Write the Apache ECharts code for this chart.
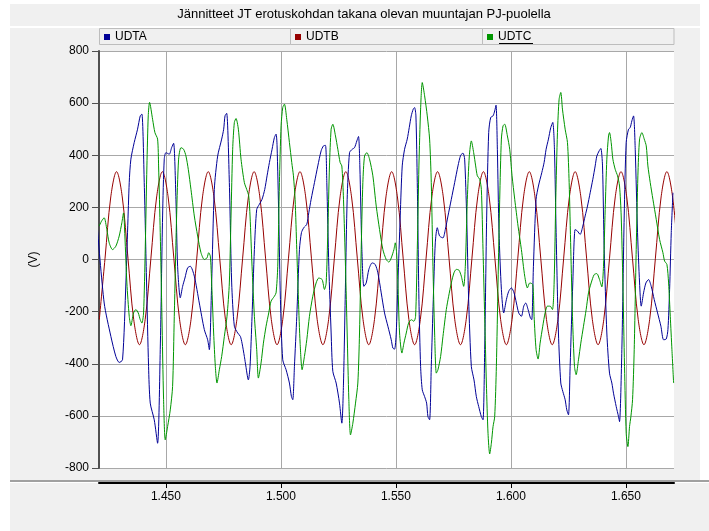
<!DOCTYPE html>
<html><head><meta charset="utf-8">
<script src="https://cdn.jsdelivr.net/npm/echarts@6/dist/echarts.min.js"></script>
<style>html,body{margin:0;padding:0;background:#fff}#c{width:709px;height:531px}</style>
</head><body><div id="c"></div>
<script>
const titleText = 'Jännitteet JT erotuskohdan takana olevan muuntajan PJ-puolella';
const seriesNames = ['UDTA', 'UDTB', 'UDTC'];
const yAxisName = '(V)';
const xTickValues = [1.45, 1.50, 1.55, 1.60, 1.65];

const udtaT = [1.42025,1.42315,1.42606,1.42823,1.42968,1.43113,1.43259,1.43404,1.43476,1.43621,1.43766,1.43883,1.43955,1.44057,1.44158,1.44245,1.44318,1.44492,1.44637,1.44753,1.44855,1.44927,1.45000,1.45145,1.45247,1.45334,1.45435,1.45508,1.45624,1.45726,1.45827,1.45943,1.46059,1.46234,1.46451,1.46669,1.46814,1.46887,1.46988,1.47104,1.47249,1.47424,1.47511,1.47569,1.47641,1.47757,1.47859,1.47975,1.48120,1.48236,1.48309,1.48410,1.48454,1.48584,1.48657,1.48744,1.48846,1.48947,1.49063,1.49179,1.49296,1.49397,1.49499,1.49615,1.49716,1.49789,1.49832,1.49905,1.49978,1.50079,1.50224,1.50369,1.50457,1.50515,1.50587,1.50689,1.50805,1.50892,1.50993,1.51124,1.51211,1.51313,1.51458,1.51603,1.51748,1.51850,1.51937,1.51995,1.52082,1.52183,1.52256,1.52401,1.52546,1.52648,1.52720,1.52807,1.52880,1.52982,1.53098,1.53199,1.53301,1.53373,1.53431,1.53519,1.53606,1.53707,1.53823,1.53968,1.54099,1.54215,1.54360,1.54505,1.54650,1.54796,1.54868,1.54941,1.55013,1.55086,1.55187,1.55274,1.55376,1.55492,1.55579,1.55666,1.55753,1.55811,1.55869,1.55928,1.56000,1.56073,1.56145,1.56247,1.56334,1.56392,1.56464,1.56537,1.56624,1.56711,1.56798,1.56900,1.57045,1.57147,1.57263,1.57408,1.57553,1.57698,1.57814,1.57916,1.57988,1.58075,1.58162,1.58278,1.58395,1.58496,1.58598,1.58714,1.58786,1.58859,1.58946,1.59033,1.59120,1.59222,1.59294,1.59352,1.59410,1.59483,1.59585,1.59686,1.59802,1.59904,1.60020,1.60136,1.60238,1.60339,1.60455,1.60557,1.60644,1.60746,1.60847,1.60905,1.60978,1.61094,1.61196,1.61341,1.61442,1.61529,1.61631,1.61732,1.61819,1.61892,1.61965,1.62066,1.62168,1.62255,1.62357,1.62429,1.62502,1.62574,1.62690,1.62792,1.62893,1.63009,1.63125,1.63227,1.63329,1.63445,1.63561,1.63663,1.63735,1.63837,1.63909,1.63982,1.64054,1.64170,1.64286,1.64388,1.64460,1.64577,1.64678,1.64722,1.64823,1.64925,1.65011,1.65113,1.65186,1.65258,1.65331,1.65404,1.65505,1.65593,1.65665,1.65767,1.65869,1.65984,1.66100,1.66231,1.66376,1.66521,1.66637,1.66753,1.66826,1.66899,1.66971,1.67044];
const udtaV = [115,-167,-295,-372,-395,-385,-90,295,385,449,500,551,558,295,-90,-410,-551,-615,-705,-346,167,385,410,404,429,446,231,-26,-147,-103,-71,-32,-26,-64,-167,-269,-308,-346,-90,269,397,462,500,551,561,295,-90,-256,-282,-295,-321,-372,-397,-462,-410,-218,38,192,212,231,269,321,372,423,468,481,436,167,-154,-385,-423,-474,-526,-538,-410,-218,38,103,122,135,179,231,295,359,417,436,438,295,-26,-282,-429,-474,-551,-628,-474,-90,231,410,423,429,455,472,359,38,-103,-90,-38,-13,-19,-51,-128,-205,-256,-308,-340,-344,-282,-90,167,359,423,462,506,551,577,583,551,295,-154,-410,-500,-526,-551,-603,-615,-410,-154,64,122,90,83,115,167,231,295,359,400,408,385,167,-154,-410,-462,-526,-564,-603,-615,-346,167,487,545,551,570,592,423,103,-115,-205,-154,-122,-109,-128,-167,-205,-218,-179,-167,-192,-224,-231,-26,231,282,333,372,423,462,506,526,423,103,-282,-474,-506,-538,-577,-596,-410,-90,115,109,96,128,167,205,256,308,359,397,417,426,359,38,-282,-436,-474,-513,-564,-603,-622,-346,167,449,500,506,532,551,423,103,-90,-179,-128,-90,-77,-103,-154,-205,-256,-308,-305,-269,-115,103,256];

const udtbT = [1.42104,1.42353,1.42602,1.42852,1.43101,1.43350,1.43599,1.43849,1.44098,1.44347,1.44596,1.44846,1.45095,1.45344,1.45593,1.45843,1.46092,1.46341,1.46590,1.46840,1.47089,1.47338,1.47587,1.47837,1.48086,1.48335,1.48584,1.48834,1.49083,1.49332,1.49581,1.49831,1.50080,1.50329,1.50578,1.50828,1.51077,1.51326,1.51575,1.51825,1.52074,1.52323,1.52572,1.52822,1.53071,1.53320,1.53569,1.53819,1.54068,1.54317,1.54566,1.54816,1.55065,1.55314,1.55563,1.55813,1.56062,1.56311,1.56560,1.56810,1.57059,1.57308,1.57557,1.57807,1.58056,1.58305,1.58554,1.58804,1.59053,1.59302,1.59551,1.59801,1.60050,1.60299,1.60548,1.60798,1.61047,1.61296,1.61545,1.61795,1.62044,1.62293,1.62542,1.62792,1.63041,1.63290,1.63539,1.63789,1.64038,1.64287,1.64536,1.64786,1.65035,1.65284,1.65533,1.65783,1.66032,1.66281,1.66530,1.66780,1.67029,1.67278];
const udtbV = [-230,5,240,337,240,5,-230,-327,-230,5,240,337,240,5,-230,-327,-230,5,240,337,240,5,-230,-327,-230,5,240,337,240,5,-230,-327,-230,5,240,337,240,5,-230,-327,-230,5,240,337,240,5,-230,-327,-230,5,240,337,240,5,-230,-327,-230,5,240,337,240,5,-230,-327,-230,5,240,337,240,5,-230,-327,-230,5,240,337,240,5,-230,-327,-230,5,240,337,240,5,-230,-327,-230,5,240,337,240,5,-230,-327,-230,5,240,337,240,5];

const udtcT = [1.42098,1.42199,1.42315,1.42431,1.42533,1.42678,1.42823,1.42968,1.43084,1.43157,1.43215,1.43302,1.43404,1.43476,1.43592,1.43694,1.43796,1.43883,1.43955,1.44028,1.44100,1.44173,1.44231,1.44289,1.44420,1.44521,1.44637,1.44681,1.44753,1.44826,1.44898,1.44971,1.45073,1.45189,1.45290,1.45363,1.45464,1.45551,1.45653,1.45769,1.45871,1.45972,1.46088,1.46234,1.46379,1.46524,1.46669,1.46785,1.46858,1.46930,1.46988,1.47075,1.47148,1.47220,1.47322,1.47424,1.47540,1.47656,1.47757,1.47830,1.47902,1.47975,1.48048,1.48149,1.48265,1.48410,1.48512,1.48599,1.48657,1.48744,1.48846,1.48947,1.49020,1.49136,1.49238,1.49354,1.49470,1.49571,1.49716,1.49789,1.49862,1.49934,1.50007,1.50079,1.50152,1.50253,1.50369,1.50471,1.50544,1.50616,1.50689,1.50761,1.50834,1.50921,1.51022,1.51124,1.51240,1.51385,1.51530,1.51646,1.51792,1.51893,1.51966,1.52038,1.52111,1.52183,1.52256,1.52372,1.52474,1.52575,1.52648,1.52720,1.52807,1.52880,1.52953,1.53025,1.53127,1.53243,1.53344,1.53417,1.53490,1.53562,1.53635,1.53736,1.53852,1.53997,1.54143,1.54288,1.54433,1.54578,1.54694,1.54796,1.54912,1.54970,1.55028,1.55086,1.55158,1.55260,1.55347,1.55449,1.55550,1.55666,1.55782,1.55855,1.55928,1.56000,1.56073,1.56145,1.56247,1.56363,1.56464,1.56537,1.56610,1.56682,1.56755,1.56827,1.56943,1.57045,1.57190,1.57292,1.57408,1.57524,1.57625,1.57741,1.57843,1.57945,1.58017,1.58104,1.58191,1.58278,1.58380,1.58467,1.58539,1.58641,1.58714,1.58786,1.58859,1.58932,1.59004,1.59077,1.59149,1.59222,1.59294,1.59367,1.59439,1.59512,1.59585,1.59657,1.59730,1.59846,1.59947,1.60049,1.60165,1.60310,1.60455,1.60600,1.60716,1.60818,1.60949,1.61007,1.61094,1.61181,1.61268,1.61384,1.61486,1.61587,1.61703,1.61805,1.61878,1.61950,1.62023,1.62095,1.62168,1.62240,1.62357,1.62458,1.62531,1.62603,1.62676,1.62763,1.62835,1.62937,1.63038,1.63155,1.63271,1.63372,1.63488,1.63619,1.63735,1.63851,1.63953,1.64025,1.64098,1.64170,1.64243,1.64286,1.64359,1.64432,1.64533,1.64635,1.64722,1.64794,1.64867,1.64939,1.65012,1.65085,1.65157,1.65215,1.65288,1.65360,1.65447,1.65520,1.65593,1.65694,1.65796,1.65883,1.65955,1.66057,1.66173,1.66318,1.66463,1.66608,1.66681,1.66782,1.66855,1.66928,1.67000,1.67073];
const udtcV = [128,147,160,115,64,38,51,90,141,179,90,-90,-218,-254,-205,-192,-205,-231,-244,-205,38,359,551,603,538,487,462,359,103,-218,-538,-692,-641,-577,-487,-218,167,385,429,423,397,346,269,167,90,26,0,6,26,13,-90,-282,-410,-474,-423,-372,-295,-218,-90,167,423,526,541,500,385,295,269,244,167,-26,-218,-346,-455,-397,-321,-256,-205,-160,-141,-128,-26,295,513,583,596,538,449,372,321,231,38,-154,-321,-423,-372,-308,-218,-141,-90,-71,-77,-115,-90,103,359,500,519,474,423,372,359,231,-26,-282,-538,-673,-628,-551,-474,-282,38,295,397,410,385,321,205,115,38,0,-10,6,38,64,26,-90,-282,-359,-321,-282,-244,-231,-237,-218,38,359,577,679,628,551,462,295,-26,-282,-436,-423,-372,-295,-192,-141,-90,-51,-38,-41,-64,-103,-26,231,397,455,410,359,321,308,269,38,-218,-474,-667,-746,-705,-641,-603,-410,-90,231,462,513,519,474,423,321,231,128,38,-64,-109,-90,-96,-218,-346,-382,-321,-256,-205,-179,-179,-192,-90,231,487,615,641,577,500,449,295,38,-218,-410,-442,-385,-321,-256,-192,-128,-90,-58,-54,-77,-105,-26,192,385,474,487,449,385,346,321,282,167,-90,-410,-667,-718,-641,-603,-538,-346,38,321,462,487,462,436,359,295,231,154,77,26,-6,-19,-90,-218,-346,-474];

function zip(t, v) { return t.map((x, i) => [x, v[i]]); }

const FONT = 'Liberation Sans, Arial, sans-serif';
const colors = ['#000096', '#960000', '#009600'];

const chart = echarts.init(document.getElementById('c'), null, {renderer: 'canvas'});
const legendLefts = [104, 295, 487];
chart.setOption({
  animation: false,
  backgroundColor: '#ffffff',
  color: colors,
  title: {
    text: titleText, left: 364, textAlign: 'center', top: 8, padding: 0,
    textStyle: {fontFamily: FONT, fontSize: 13, fontWeight: 'normal', color: '#000'}
  },
  legend: seriesNames.map((n, i) => ({
    data: [n], left: legendLefts[i], top: 31, padding: 0,
    icon: 'rect', itemWidth: 6, itemHeight: 6, selectedMode: false,
    textStyle: {fontFamily: FONT, fontSize: 12, color: '#000'}
  })),
  graphic: [
    {type: 'rect', z: -10, shape: {x: 10, y: 4, width: 690, height: 22}, style: {fill: '#f0f0f0'}},
    {type: 'rect', z: -10, shape: {x: 10, y: 28, width: 690, height: 452}, style: {fill: '#f0f0f0'}},
    {type: 'rect', z: -10, shape: {x: 10, y: 483, width: 699, height: 48}, style: {fill: '#f0f0f0'}},
    {type: 'rect', z: -9, shape: {x: 99.5, y: 28.5, width: 191, height: 16}, style: {fill: '#f0f0f0', stroke: '#bdbdbd', lineWidth: 1}},
    {type: 'rect', z: -9, shape: {x: 290.5, y: 28.5, width: 192, height: 16}, style: {fill: '#f0f0f0', stroke: '#bdbdbd', lineWidth: 1}},
    {type: 'rect', z: -9, shape: {x: 482.5, y: 28.5, width: 191.5, height: 16}, style: {fill: '#f0f0f0', stroke: '#bdbdbd', lineWidth: 1}},
    {type: 'line', z: -9, shape: {x1: 10, y1: 481, x2: 709, y2: 481}, style: {stroke: '#a0a0a0', lineWidth: 2}},
    {type: 'line', z: 10, shape: {x1: 499, y1: 43.5, x2: 533, y2: 43.5}, style: {stroke: '#000', lineWidth: 1}}
  ],
  grid: {left: 99, top: 51, width: 575, height: 417, show: true, backgroundColor: '#ffffff', borderWidth: 0, containLabel: false},
  xAxis: {
    type: 'value', min: 1.4209, max: 1.6709, splitNumber: 5, offset: 15,
    axisLine: {show: true, onZero: false, lineStyle: {color: '#000', width: 2}},
    axisTick: {show: true, length: 5, customValues: xTickValues, lineStyle: {color: '#000', width: 1}},
    axisLabel: {customValues: xTickValues, margin: 8, fontFamily: FONT, fontSize: 12, color: '#000', formatter: v => v.toFixed(3)},
    splitLine: {show: true, lineStyle: {color: '#a8a8a8', width: 1}}
  },
  yAxis: {
    type: 'value', min: -800, max: 800, interval: 200,
    name: yAxisName, nameLocation: 'middle', nameRotate: 90, nameGap: 59,
    nameTextStyle: {fontFamily: FONT, fontSize: 12, color: '#000'},
    axisLine: {show: true, onZero: false, lineStyle: {color: '#505050', width: 2}},
    axisTick: {show: true, length: 7, lineStyle: {color: '#505050', width: 1}},
    axisLabel: {margin: 10, fontFamily: FONT, fontSize: 12, color: '#000'},
    splitLine: {show: true, lineStyle: {color: '#a8a8a8', width: 1}}
  },
  series: [
    {name: seriesNames[0], type: 'line', data: zip(udtaT, udtaV), showSymbol: false, smooth: 0.25, lineStyle: {width: 1, color: colors[0]}, itemStyle: {color: colors[0]}, z: 3},
    {name: seriesNames[1], type: 'line', data: zip(udtbT, udtbV), showSymbol: false, smooth: 0.35, lineStyle: {width: 1, color: colors[1]}, itemStyle: {color: colors[1]}, z: 2},
    {name: seriesNames[2], type: 'line', data: zip(udtcT, udtcV), showSymbol: false, smooth: 0.25, lineStyle: {width: 1, color: colors[2]}, itemStyle: {color: colors[2]}, z: 4}
  ]
});
</script></body></html>
